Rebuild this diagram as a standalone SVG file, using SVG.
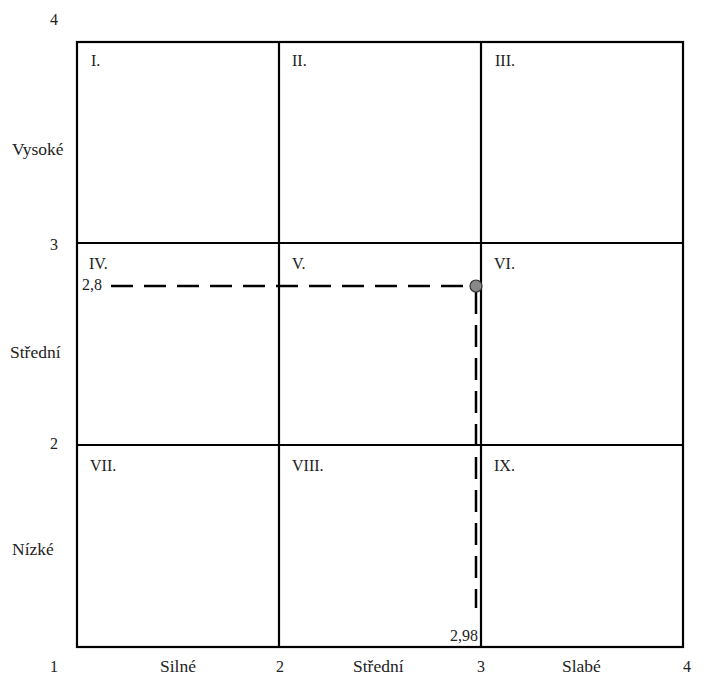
<svg xmlns="http://www.w3.org/2000/svg" width="704" height="675" viewBox="0 0 704 675" font-family="'Liberation Serif', 'Times New Roman', 'DejaVu Serif', serif">
<style>
text{font-family:'Liberation Serif','Times New Roman','DejaVu Serif',serif;font-size:16px;fill:#222}
.w{font-size:17.5px}
.g{stroke:#000;stroke-width:2.2;fill:none}
.d{stroke:#000;stroke-width:2.5;fill:none;stroke-dasharray:22,11}
</style>
<rect width="704" height="675" fill="#fff"/>
<g id="grid">
<rect class="g" x="77" y="42" width="606" height="605"/>
<line class="g" x1="279" y1="42" x2="279" y2="647"/>
<line class="g" x1="481" y1="42" x2="481" y2="647"/>
<line class="g" x1="77" y1="243" x2="683" y2="243"/>
<line class="g" x1="77" y1="445" x2="683" y2="445"/>
</g>
<g id="cells" font-family="Liberation Serif">
<text x="91" y="66">I.</text>
<text x="292" y="66">II.</text>
<text x="495" y="66">III.</text>
<text x="89" y="269">IV.</text>
<text x="292" y="269">V.</text>
<text x="494" y="269">VI.</text>
<text x="90" y="471">VII.</text>
<text x="292" y="471">VIII.</text>
<text x="494" y="471">IX.</text>
</g>
<g id="axes" font-family="Liberation Serif">
<text x="50" y="25">4</text>
<text x="50" y="250">3</text>
<text x="50" y="449">2</text>
<text x="50" y="672">1</text>
<text class="w" x="12" y="155">Vysoké</text>
<text class="w" x="10" y="358">Střední</text>
<text class="w" x="12" y="555">Nízké</text>
<text class="w" x="160" y="672">Silné</text>
<text x="276" y="672">2</text>
<text class="w" x="353" y="672">Střední</text>
<text x="477" y="672">3</text>
<text class="w" x="562" y="672">Slabé</text>
<text x="683" y="672">4</text>
</g>
<g id="connectors">
<line class="d" x1="111" y1="286" x2="470" y2="286"/>
<line class="d" x1="476" y1="292" x2="476" y2="608" stroke-dasharray="30,8"/>
</g>
<g id="point">
<circle cx="476" cy="286" r="6" fill="#888" stroke="#333" stroke-width="1.2"/>
<text x="82" y="290">2,8</text>
<text x="450" y="641">2,98</text>
</g>
</svg>
